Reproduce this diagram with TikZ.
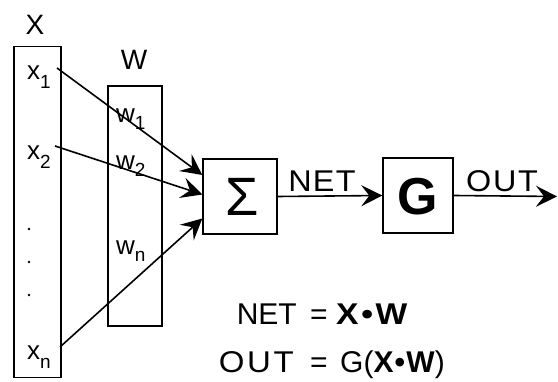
\documentclass[tikz,border=0pt]{standalone}
\usepackage{fontspec}
\setmainfont{Liberation Sans}
\usetikzlibrary{arrows.meta,calc}
\newcommand{\trk}[2]{{\addfontfeature{LetterSpace=#1}#2}}
\begin{document}
\begin{tikzpicture}[x=1pt,y=-1pt,
  box/.style={draw,line width=1.4pt,inner sep=0pt},
  conn/.style={line width=1.6pt,-{Stealth[length=21pt,width=21pt,inset=8pt]}},
  lbl/.style={inner sep=0pt,anchor=base west,font=\fontsize{26}{28}\selectfont},
  big/.style={inner sep=0pt,font=\fontsize{28}{30}\selectfont},
  frm/.style={inner sep=0pt,font=\fontsize{30}{32}\selectfont}]
\useasboundingbox (0,0) rectangle (558,382);
% boxes
\node[box,minimum width=47pt,minimum height=331pt] (xbox) at (37.5,212) {};
\node[box,minimum width=54pt,minimum height=240pt] (wbox) at (135,206) {};
\node[box,minimum width=74pt,minimum height=75pt] (sig) at (240,196.5) {};
\node[box,minimum width=70pt,minimum height=75pt] (g) at (418,195.5) {};
% titles
\node[big] (xt) at (35,25) {X};
\node[big] (wt) at (134,60) {W};
% sigma and G
\node[inner sep=0pt,font=\fontsize{54}{56}\selectfont] (sigt) at (242,197) {Σ};
\node[inner sep=0pt,font=\fontsize{52}{54}\selectfont\bfseries] (gt) at (418,197) {G};
% x labels
\node[lbl] (x1) at (27,80) {x\raisebox{-9pt}{\fontsize{19}{20}\selectfont 1}};
\node[lbl] (x2) at (27,160) {x\raisebox{-9pt}{\fontsize{19}{20}\selectfont 2}};
\node[lbl] (xn) at (27,360) {x\raisebox{-9pt}{\fontsize{19}{20}\selectfont n}};
\node[lbl] (w1) at (116,123) {w\raisebox{-7pt}{\fontsize{19}{20}\selectfont 1}};
\node[lbl] (w2) at (116,170) {w\raisebox{-7pt}{\fontsize{19}{20}\selectfont 2}};
\node[lbl] (wn) at (116,255) {w\raisebox{-7pt}{\fontsize{19}{20}\selectfont n}};
% dots
\foreach \yy/\nm in {229/d1,262/d2,295/d3}
  \fill (29,\yy) circle (1.4pt) coordinate (\nm);
% input arrows
\coordinate (s1) at (57,68);
\coordinate (s2) at (55,146);
\coordinate (sn) at (60,347);
\draw[conn] (s1) -- ($(sig.west)+(0,-21.5)$);
\draw[conn] (s2) -- ($(sig.west)+(0,-2)$);
\draw[conn] (sn) -- ($(sig.west)+(0,22)$);
% output arrows
\coordinate (oend) at (557,196.5);
\draw[conn] (sig.east) -- (g.west);
\draw[conn] (g.east) -- (oend);
\node[frm,anchor=base] (netl) at (322,192) {\scalebox{1.08}[1]{\trk{4}{NET}}};
\node[frm,anchor=base] (outl) at (502,192) {\scalebox{1.08}[1]{\trk{5}{OUT}}};
% formulas
\node[frm,anchor=base east] (eq1l) at (297,325) {NET};
\node[frm,anchor=base] (eq1e) at (319,325) {=};
\node[frm,anchor=base west] (eq1r) at (336,325) {\scalebox{1.12}[1]{\bfseries\trk{8}{X•W}}};
\node[frm,anchor=base east] (eq2l) at (294,373) {\scalebox{1.1}[1]{\trk{8}{OUT}}};
\node[frm,anchor=base] (eq2e) at (319,373) {=};
\node[frm,anchor=base west] (eq2r) at (340,373) {G(\bfseries\trk{4}{X•W}\mdseries)};
\end{tikzpicture}
\end{document}
